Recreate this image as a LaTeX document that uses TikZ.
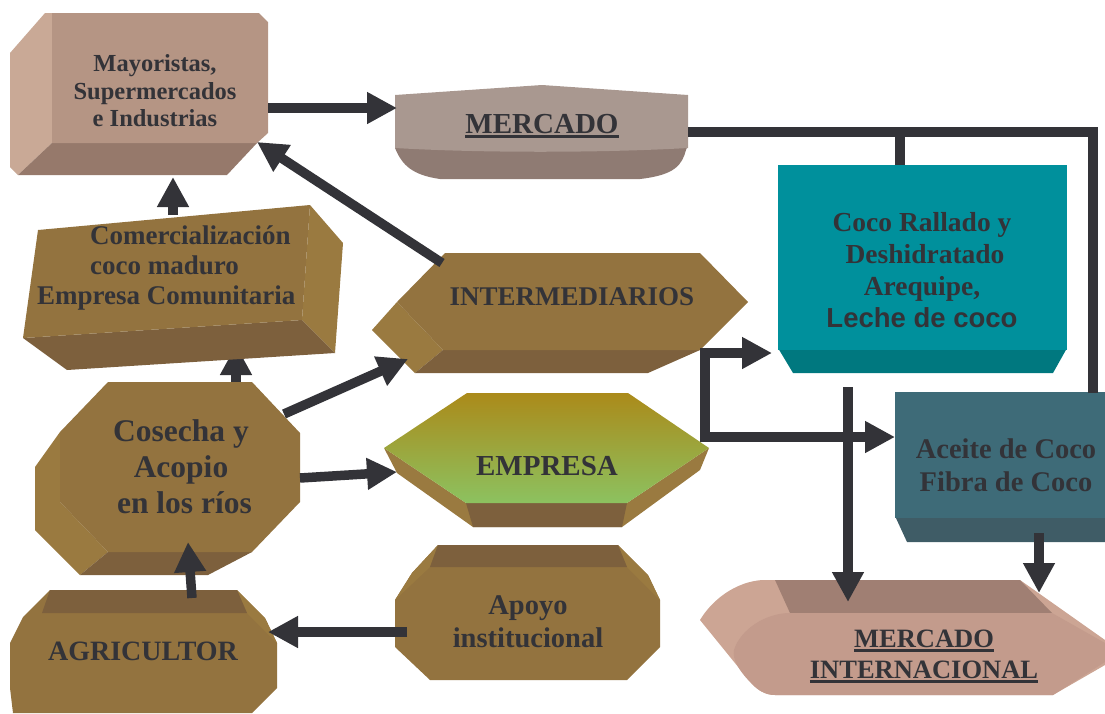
\documentclass[tikz,border=0pt]{standalone}
\usepackage{fontspec}
\setmainfont{Liberation Serif}
\newfontfamily\arialfont{Liberation Sans}
\usepackage{xcolor}
\usepackage{tikz}
\usetikzlibrary{arrows.meta}

\definecolor{ink}{HTML}{333338}
\definecolor{mayFront}{HTML}{B59584}
\definecolor{maySide}{HTML}{C9A996}
\definecolor{mayBot}{HTML}{96796B}
\definecolor{mercFront}{HTML}{A99890}
\definecolor{mercBot}{HTML}{8F7B73}
\definecolor{cocoFront}{HTML}{00909C}
\definecolor{cocoBot}{HTML}{00787F}
\definecolor{aceFront}{HTML}{3E6B78}
\definecolor{aceBot}{HTML}{3F5C66}
\definecolor{miTop}{HTML}{A07F73}
\definecolor{miFront}{HTML}{C39B8C}
\definecolor{miCap}{HTML}{CCA594}
\definecolor{brFront}{HTML}{93733F}
\definecolor{brSide}{HTML}{9A7A40}
\definecolor{brDark}{HTML}{7D603D}
\definecolor{empTop}{HTML}{AB8A1A}
\definecolor{empBot}{HTML}{8CC260}

\newcommand{\ulbox}[1]{\setbox0\hbox{#1}\rlap{\rule[-4.5pt]{\wd0}{2.5pt}}\box0}

\begin{document}
\begin{tikzpicture}[
		x=1pt, y=-1pt,
		lbl/.style={text=ink, align=center, inner sep=0pt},
		arr/.style={draw=ink, line width=9.5pt, -{Triangle[length=30pt,width=30pt]}},
		link/.style={draw=ink, line width=9.5pt},
		]
		\useasboundingbox (0,0) rectangle (1105,713);
		
		% Connector ends
		\coordinate (cos-t) at (236,383);
		\coordinate (com-b) at (236,345);
		
		% arrow hidden behind the box
		\draw[arr] (cos-t) -- (com-b);
		
		% Mayoristas box
		\fill[maySide] (45,13) -- (52,13) -- (52,143) -- (18,175) -- (10,167) -- (10,53) -- cycle;
		\fill[mayBot] (52,143) -- (257,143) -- (227,175) -- (18,175) -- cycle;
		\fill[mayFront] (52,13) -- (259,13) -- (268,22) -- (268,133) -- (257,143) -- (52,143) -- cycle;
		\node[lbl, font=\bfseries\fontsize{24.5}{27.5}\selectfont] (may) at (155,91)
			{Mayoristas,\\Supermercados\\e Industrias};
		
		% Mercado
		\fill[mercBot] (395,145) -- (688,145) -- (686,150) .. controls (682,165) and (675,175) .. (640,179)
			-- (440,179) .. controls (412,175) and (402,165) .. (395,148) -- cycle;
		\fill[mercFront] (395,95) -- (542,85) -- (688,95) -- (688,148) .. controls (600,153) and (480,153) .. (395,148) -- cycle;
		\node[lbl, anchor=base, font=\bfseries\fontsize{29}{32}\selectfont] (merc) at (542,133) {\ulbox{MERCADO}};
		
		% Coco Rallado
		\fill[cocoBot] (778,348) -- (1067,348) -- (1053,373) -- (793,373) -- cycle;
		\fill[cocoFront] (778,165) rectangle (1067,350);
		\node[lbl, font=\bfseries\fontsize{27.5}{32}\selectfont] (coco) at (922,270)
			{Coco Rallado y\\\hspace*{6pt}Deshidratado\\Arequipe,\\{\arialfont Leche de coco}};
		
		% Aceite
		\fill[aceBot] (895,516) -- (1105,516) -- (1105,542) -- (907,542) -- cycle;
		\fill[aceFront] (895,392) rectangle (1105,518);
		\node[lbl, font=\bfseries\fontsize{28.5}{33}\selectfont] (ace) at (1006,465)
			{Aceite de Coco\\Fibra de Coco};
		
		% Mercado internacional
		\fill[miCap] (762,580) -- (1020,580) -- (1105,640) -- (1105,665) -- (1053,695) -- (775,695)
			.. controls (765,695) and (758,690) .. (752,684) -- (700,620)
			.. controls (712,600) and (735,582) .. (762,580) -- cycle;
		\fill[miTop] (775,580) -- (1020,580) -- (1052,613) -- (790,613) -- cycle;
		\fill[miFront] (790,613) -- (1052,613) -- (1105,643) -- (1105,662) -- (1053,695) -- (775,695)
			.. controls (765,695) and (758,690) .. (752,684)
			.. controls (740,672) and (732,660) .. (734,650) .. controls (740,630) and (765,613) .. (790,613) -- cycle;
		\node[lbl, font=\bfseries\fontsize{26.5}{31}\selectfont] (mi) at (924,656)
			{\ulbox{MERCADO}\\\ulbox{INTERNACIONAL}};
		
		% Intermediarios
		\fill[brSide] (397,302) -- (443,350) -- (415,373) -- (372,330) -- cycle;
		\fill[brDark] (443,350) -- (700,350) -- (648,373) -- (415,373) -- cycle;
		\fill[brFront] (445,253) -- (700,253) -- (748,302) -- (700,350) -- (443,350) -- (397,302) -- cycle;
		\node[lbl, anchor=base, font=\bfseries\fontsize{27}{30}\selectfont] (int) at (572,305) {INTERMEDIARIOS};
		
		% Empresa
		\fill[brSide] (384,448) -- (466,503) -- (627,503) -- (709,448) -- (700,470) -- (622,527) -- (473,527) -- (397,473) -- cycle;
		\fill[brDark] (466,503) -- (627,503) -- (622,527) -- (473,527) -- cycle;
		\shade[top color=empTop, bottom color=empBot] (467,393) -- (628,393) -- (709,448) -- (627,503) -- (466,503) -- (384,448) -- cycle;
		\node[lbl, anchor=base, font=\bfseries\fontsize{29}{32}\selectfont] (emp) at (547,475) {EMPRESA};
		
		% Comercializacion
		\fill[brSide] (310,205) -- (343,243) -- (335,353) -- (302,320) -- cycle;
		\fill[brDark] (23,338) -- (302,320) -- (335,353) -- (67,370) -- cycle;
		\fill[brFront] (38,230) -- (310,205) -- (302,320) -- (23,338) -- cycle;
		\node[lbl, align=left, anchor=west, font=\bfseries\fontsize{27}{30}\selectfont] (com) at (37,268)
			{\hspace*{53pt}Comercialización\\\hspace*{53pt}coco maduro\\Empresa Comunitaria};
		
		% Cosecha
		\fill[brSide] (60,432) -- (60,502) -- (108,552) -- (80,575) -- (35,530) -- (35,467) -- cycle;
		\fill[brDark] (108,552) -- (252,552) -- (208,575) -- (80,575) -- cycle;
		\fill[brFront] (108,382) -- (252,382) -- (300,433) -- (300,502) -- (252,552) -- (108,552) -- (60,502) -- (60,432) -- cycle;
		\node[lbl, font=\bfseries\fontsize{31.5}{36}\selectfont] (cos) at (181,467)
			{Cosecha y\\Acopio\\\hspace*{7pt}en los ríos};
		
		% Agricultor
		\fill[brFront] (50,590) -- (237,590) -- (265,618) -- (277,643) -- (277,688) -- (252,713) -- (13,713) -- (10,688) -- (10,643) -- (23,617) -- cycle;
		\fill[brSide] (237,590) -- (265,618) -- (277,643) -- (247,613) -- cycle;
		\fill[brDark] (50,590) -- (237,590) -- (247,613) -- (42,613) -- cycle;
		\node[lbl, anchor=base, font=\bfseries\fontsize{28}{31}\selectfont] (agr) at (143,660) {AGRICULTOR};
		
		% Apoyo institucional
		\fill[brFront] (438,545) -- (618,545) -- (648,575) -- (660,600) -- (660,647) -- (627,680) -- (430,680) -- (395,647) -- (395,600) -- (412,573) -- cycle;
		\fill[brSide] (618,545) -- (648,575) -- (660,600) -- (627,567) -- cycle;
		\fill[brSide] (438,545) -- (412,573) -- (395,600) -- (430,567) -- cycle;
		\fill[brDark] (438,545) -- (618,545) -- (627,567) -- (430,567) -- cycle;
		\node[lbl, font=\bfseries\fontsize{28.5}{33}\selectfont] (apo) at (528,622)
			{Apoyo\\institucional};
		
		% Connector ends
		\coordinate (may-r) at (268,108);
		\coordinate (merc-l) at (397,108);
		\coordinate (may-b) at (173,177);
		\coordinate (com-t) at (173,215);
		\coordinate (may-c) at (257,142);
		\coordinate (int-t) at (442,263);
		\coordinate (cos-r1) at (284,414);
		\coordinate (int-l) at (408,359);
		\coordinate (cos-r2) at (300,478);
		\coordinate (emp-l) at (397,472);
		\coordinate (agr-t) at (192,598);
		\coordinate (cos-b) at (188,542);
		\coordinate (apo-l) at (407,632);
		\coordinate (agr-r) at (268,632);
		\coordinate (int-o) at (705,353);
		\coordinate (coco-l) at (772,353);
		\coordinate (ace-l) at (895,437);
		\coordinate (coco-b) at (848,387);
		\coordinate (mi-t1) at (848,602);
		\coordinate (ace-b) at (1039,533);
		\coordinate (mi-t2) at (1039,593);
		\coordinate (merc-r) at (688,132);
		\coordinate (ace-t) at (1093,393);
		\coordinate (coco-t) at (900,165);
		
		% Arrows
		\draw[arr] (may-r) -- (merc-l);
		\draw[arr] (com-t) -- (may-b);
		\draw[arr] (int-t) -- (may-c);
		\draw[arr] (cos-r1) -- (int-l);
		\draw[arr] (cos-r2) -- (emp-l);
		\draw[arr] (agr-t) -- (cos-b);
		\draw[arr] (apo-l) -- (agr-r);
		\draw[arr, line cap=rect] (int-o) -- (coco-l);
		\draw[arr, line cap=rect] (int-o) |- (ace-l);
		\draw[arr] (coco-b) -- (mi-t1);
		\draw[arr] (ace-b) -- (mi-t2);
		
		% Links to the market
		\draw[link] (merc-r) -| (ace-t);
		\draw[link] (coco-t) -- (coco-t |- merc-r);
		
	\end{tikzpicture}
\end{document}
